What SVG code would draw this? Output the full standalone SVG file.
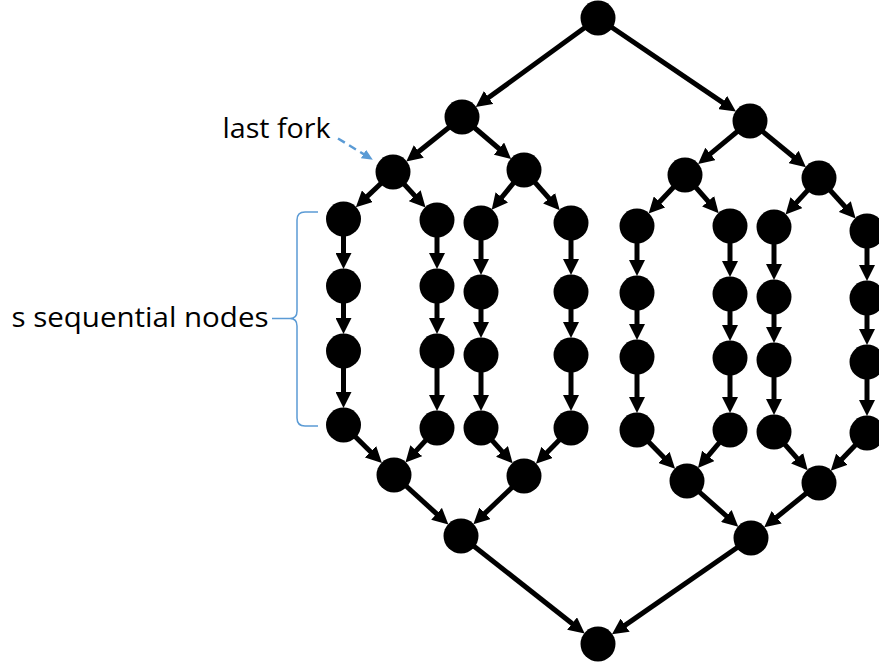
<svg xmlns="http://www.w3.org/2000/svg" width="879" height="667" viewBox="0 0 879 667">
  <style>
    .node { fill: #000; }
    .edge { stroke: #000; stroke-width: 5; fill: none; marker-end: url(#arrow); }
    .note { stroke: #5B9BD5; fill: none; }
    .label { font-family: "Open Sans", "Liberation Sans", sans-serif; font-size: 27px; fill: #000; }
  </style>
  <defs>
    <marker id="arrow" markerUnits="userSpaceOnUse" markerWidth="16" markerHeight="16" refX="6" refY="8" orient="auto">
      <path d="M0,0 L16,8 L0,16 Z" fill="#000"/>
    </marker>
    <marker id="arrow-blue" markerUnits="userSpaceOnUse" markerWidth="11" markerHeight="10" refX="3" refY="5" orient="auto">
      <path d="M0,0 L11,5 L0,10 Z" fill="#5B9BD5"/>
    </marker>
  </defs>

  <!-- connectors -->
  <g id="connectors">
    <!-- fork levels -->
    <line class="edge" x1="598" y1="18" x2="483.8" y2="101.1"/>
    <line class="edge" x1="598" y1="18" x2="727.6" y2="105.9"/>
    <line class="edge" x1="462" y1="117" x2="414.1" y2="155.2"/>
    <line class="edge" x1="462" y1="117" x2="503.5" y2="152.5"/>
    <line class="edge" x1="750" y1="121" x2="705.8" y2="157.7"/>
    <line class="edge" x1="750" y1="121" x2="798.2" y2="160.8"/>
    <line class="edge" x1="393" y1="172" x2="363.1" y2="200.4"/>
    <line class="edge" x1="393" y1="172" x2="418.8" y2="200.1"/>
    <line class="edge" x1="524" y1="170" x2="498" y2="202"/>
    <line class="edge" x1="524" y1="170" x2="553.1" y2="202.8"/>
    <line class="edge" x1="685" y1="175" x2="655.5" y2="206.3"/>
    <line class="edge" x1="685" y1="175" x2="712.1" y2="205.8"/>
    <line class="edge" x1="819" y1="178" x2="792.3" y2="207.1"/>
    <line class="edge" x1="819" y1="178" x2="848.9" y2="211"/>
    <!-- sequential chains -->
    <line class="edge" x1="343.5" y1="219" x2="343.5" y2="259"/>
    <line class="edge" x1="343.5" y1="286" x2="343.5" y2="324"/>
    <line class="edge" x1="343.5" y1="351" x2="343.5" y2="398"/>
    <line class="edge" x1="437" y1="220" x2="437" y2="259"/>
    <line class="edge" x1="437" y1="286" x2="437" y2="324"/>
    <line class="edge" x1="437" y1="351" x2="437" y2="401"/>
    <line class="edge" x1="481" y1="223" x2="481" y2="265"/>
    <line class="edge" x1="481" y1="292" x2="481" y2="328"/>
    <line class="edge" x1="481" y1="355" x2="481" y2="401"/>
    <line class="edge" x1="571" y1="223" x2="571" y2="265"/>
    <line class="edge" x1="571" y1="292" x2="571" y2="328"/>
    <line class="edge" x1="571" y1="355" x2="571" y2="401"/>
    <line class="edge" x1="637" y1="226" x2="637" y2="266"/>
    <line class="edge" x1="637" y1="293" x2="637" y2="330"/>
    <line class="edge" x1="637" y1="357" x2="637" y2="403"/>
    <line class="edge" x1="730" y1="226" x2="730" y2="267"/>
    <line class="edge" x1="730" y1="294" x2="730" y2="331"/>
    <line class="edge" x1="730" y1="358" x2="730" y2="403"/>
    <line class="edge" x1="774" y1="227" x2="774" y2="270"/>
    <line class="edge" x1="774" y1="297" x2="774" y2="333"/>
    <line class="edge" x1="774" y1="360" x2="774" y2="405"/>
    <line class="edge" x1="867" y1="231" x2="867" y2="271"/>
    <line class="edge" x1="867" y1="298" x2="867" y2="335"/>
    <line class="edge" x1="867" y1="362" x2="867" y2="406"/>
    <!-- join levels -->
    <line class="edge" x1="343.5" y1="425" x2="374.8" y2="456"/>
    <line class="edge" x1="437" y1="428" x2="412.2" y2="455.1"/>
    <line class="edge" x1="481" y1="428" x2="506" y2="455.9"/>
    <line class="edge" x1="571" y1="428" x2="542.9" y2="456.7"/>
    <line class="edge" x1="637" y1="430" x2="668.1" y2="461.7"/>
    <line class="edge" x1="730" y1="430" x2="704.4" y2="460.4"/>
    <line class="edge" x1="774" y1="432" x2="801.1" y2="462.8"/>
    <line class="edge" x1="867" y1="433" x2="837.7" y2="463.5"/>
    <line class="edge" x1="394" y1="475" x2="441" y2="517.8"/>
    <line class="edge" x1="524" y1="476" x2="480.6" y2="517.4"/>
    <line class="edge" x1="687" y1="481" x2="730.8" y2="520"/>
    <line class="edge" x1="819" y1="483" x2="772" y2="521"/>
    <line class="edge" x1="461" y1="536" x2="576.8" y2="627.3"/>
    <line class="edge" x1="751" y1="538" x2="620.2" y2="628.6"/>
  </g>

  <!-- nodes -->
  <g id="n-root"><circle class="node" cx="598" cy="18" r="17.5"/></g>
  <g id="n-a1"><circle class="node" cx="462" cy="117" r="17.5"/></g>
  <g id="n-a2"><circle class="node" cx="750" cy="121" r="17.5"/></g>
  <g id="n-b1"><circle class="node" cx="393" cy="172" r="17.5"/></g>
  <g id="n-b2"><circle class="node" cx="524" cy="170" r="17.5"/></g>
  <g id="n-b3"><circle class="node" cx="685" cy="175" r="17.5"/></g>
  <g id="n-b4"><circle class="node" cx="819" cy="178" r="17.5"/></g>

  <g id="chain-1">
    <circle class="node" cx="343.5" cy="219" r="17.5"/>
    <circle class="node" cx="343.5" cy="286" r="17.5"/>
    <circle class="node" cx="343.5" cy="351" r="17.5"/>
    <circle class="node" cx="343.5" cy="425" r="17.5"/>
  </g>
  <g id="chain-2">
    <circle class="node" cx="437" cy="220" r="17.5"/>
    <circle class="node" cx="437" cy="286" r="17.5"/>
    <circle class="node" cx="437" cy="351" r="17.5"/>
    <circle class="node" cx="437" cy="428" r="17.5"/>
  </g>
  <g id="chain-3">
    <circle class="node" cx="481" cy="223" r="17.5"/>
    <circle class="node" cx="481" cy="292" r="17.5"/>
    <circle class="node" cx="481" cy="355" r="17.5"/>
    <circle class="node" cx="481" cy="428" r="17.5"/>
  </g>
  <g id="chain-4">
    <circle class="node" cx="571" cy="223" r="17.5"/>
    <circle class="node" cx="571" cy="292" r="17.5"/>
    <circle class="node" cx="571" cy="355" r="17.5"/>
    <circle class="node" cx="571" cy="428" r="17.5"/>
  </g>
  <g id="chain-5">
    <circle class="node" cx="637" cy="226" r="17.5"/>
    <circle class="node" cx="637" cy="293" r="17.5"/>
    <circle class="node" cx="637" cy="357" r="17.5"/>
    <circle class="node" cx="637" cy="430" r="17.5"/>
  </g>
  <g id="chain-6">
    <circle class="node" cx="730" cy="226" r="17.5"/>
    <circle class="node" cx="730" cy="294" r="17.5"/>
    <circle class="node" cx="730" cy="358" r="17.5"/>
    <circle class="node" cx="730" cy="430" r="17.5"/>
  </g>
  <g id="chain-7">
    <circle class="node" cx="774" cy="227" r="17.5"/>
    <circle class="node" cx="774" cy="297" r="17.5"/>
    <circle class="node" cx="774" cy="360" r="17.5"/>
    <circle class="node" cx="774" cy="432" r="17.5"/>
  </g>
  <g id="chain-8">
    <circle class="node" cx="867" cy="231" r="17.5"/>
    <circle class="node" cx="867" cy="298" r="17.5"/>
    <circle class="node" cx="867" cy="362" r="17.5"/>
    <circle class="node" cx="867" cy="433" r="17.5"/>
  </g>

  <g id="n-d1"><circle class="node" cx="394" cy="475" r="17.5"/></g>
  <g id="n-d2"><circle class="node" cx="524" cy="476" r="17.5"/></g>
  <g id="n-d3"><circle class="node" cx="687" cy="481" r="17.5"/></g>
  <g id="n-d4"><circle class="node" cx="819" cy="483" r="17.5"/></g>
  <g id="n-e1"><circle class="node" cx="461" cy="536" r="17.5"/></g>
  <g id="n-e2"><circle class="node" cx="751" cy="538" r="17.5"/></g>
  <g id="n-sink"><circle class="node" cx="598" cy="644" r="17.5"/></g>

  <!-- annotations -->
  <g id="note-last-fork">
    <text class="label" x="222.5" y="138" textLength="108" lengthAdjust="spacingAndGlyphs">last fork</text>
    <line class="note" x1="338" y1="138.5" x2="366" y2="155.6" stroke-width="2.5" stroke-dasharray="8 5" marker-end="url(#arrow-blue)"/>
  </g>
  <g id="note-sequential">
    <text class="label" x="11.5" y="327" textLength="257" lengthAdjust="spacingAndGlyphs">s sequential nodes</text>
    <line class="note" x1="272" y1="318.5" x2="290" y2="318.5" stroke-width="1.5"/>
    <path class="note" stroke-width="1.5" d="M318,212 H305 Q297,212 297,220 V311 Q297,318.5 290,318.5 Q297,318.5 297,326 V418 Q297,426 305,426 H318"/>
  </g>
</svg>
